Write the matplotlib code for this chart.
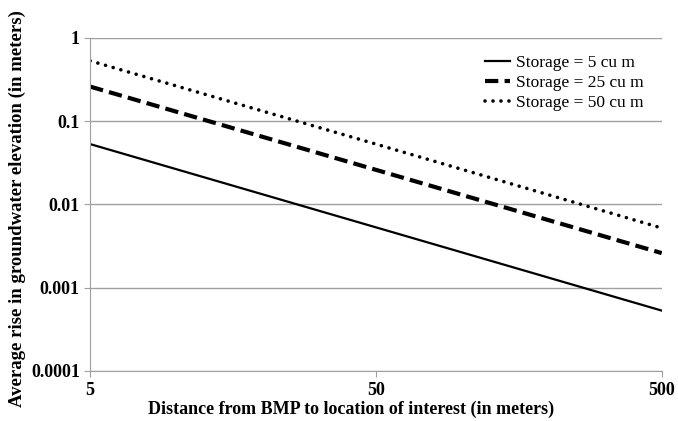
import matplotlib
matplotlib.use("Agg")
import matplotlib.pyplot as plt
from matplotlib.ticker import FixedLocator, FixedFormatter, NullLocator

plt.rcParams['font.family'] = ['Liberation Serif', 'DejaVu Serif']

# distance (m) and rise (m) for each storage volume
distance = [5, 50, 500]
rise_5 = [0.053, 0.0053, 0.00053]
rise_25 = [0.26, 0.026, 0.0026]
rise_50 = [0.53, 0.053, 0.0052]

x_ticks = [5, 50, 500]
x_labels = ['5', '50', '500']
y_ticks = [0.0001, 0.001, 0.01, 0.1, 1]
y_labels = ['0.0001', '0.001', '0.01', '0.1', '1']

fig = plt.figure(figsize=(6.78, 4.21), dpi=100)
ax = fig.add_axes([0.133, 0.119, 0.843, 0.791])

ax.plot(distance, rise_5, color='black', lw=1.6, label='Storage = 5 cu m')
ax.plot(distance, rise_25, color='black', lw=3, linestyle=(0, (3.2, 1.5)), label='Storage = 25 cu m')
ax.plot(distance, rise_50, color='black', lw=2.6, linestyle=(0, (0.01, 2.2)), dash_capstyle='round',
        label='Storage = 50 cu m')

ax.set_xscale('log')
ax.set_yscale('log')
ax.set_xlim(5, 500)
ax.set_ylim(0.0001, 1)

ax.xaxis.set_major_locator(FixedLocator(x_ticks))
ax.xaxis.set_major_formatter(FixedFormatter(x_labels))
ax.xaxis.set_minor_locator(NullLocator())
ax.yaxis.set_major_locator(FixedLocator(y_ticks))
ax.yaxis.set_major_formatter(FixedFormatter(y_labels))
ax.yaxis.set_minor_locator(NullLocator())

ax.grid(axis='y', color='#a0a0a0', lw=1)
ax.set_axisbelow(True)
for s in ['top', 'right']:
    ax.spines[s].set_visible(False)
for s in ['left', 'bottom']:
    ax.spines[s].set_color('#a0a0a0')
ax.tick_params(axis='both', colors='#a0a0a0', length=4, labelcolor='black', labelsize=13)
ax.tick_params(axis='x', pad=4)
for lbl in ax.get_xticklabels() + ax.get_yticklabels():
    lbl.set_fontweight('bold')

ax.set_xlabel('Distance from BMP to location of interest (in meters)', fontsize=13,
              fontweight='bold')
ax.xaxis.set_label_coords(0.456, -0.09)
ax.set_ylabel('Average rise in groundwater elevation (in meters)', fontsize=13.5,
              fontweight='bold')
ax.yaxis.set_label_coords(-0.112, 0.488)

leg = ax.legend(loc='upper right', frameon=False, fontsize=12.5, handlelength=1.45,
                handletextpad=0.3, labelspacing=0.2, bbox_to_anchor=(0.995, 0.995))

fig.savefig('out.png', dpi=100)
